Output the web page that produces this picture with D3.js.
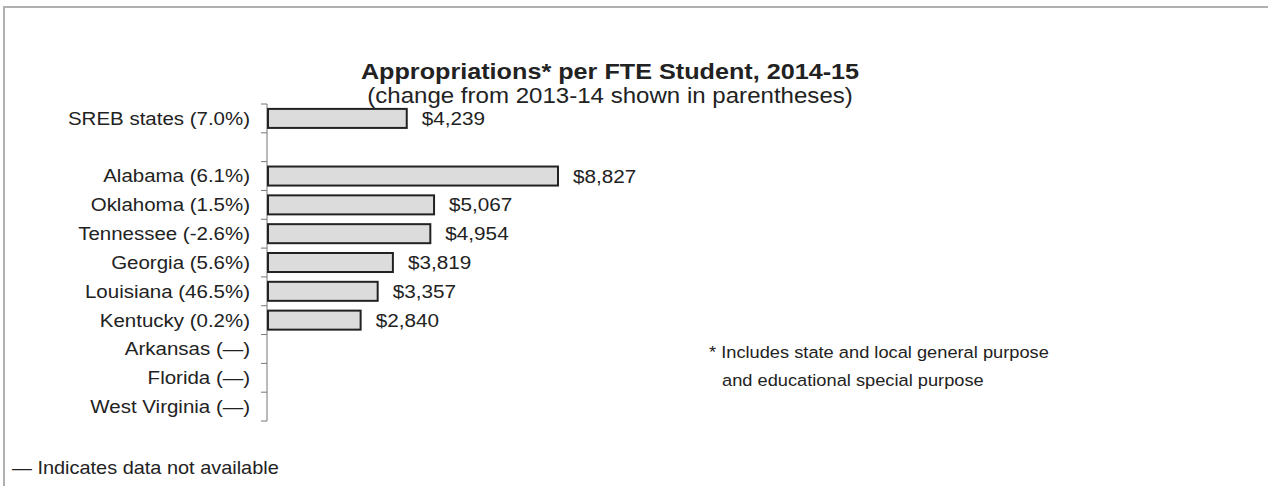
<!DOCTYPE html>
<html>
<head>
<meta charset="utf-8">
<style>
  body { margin: 0; background: #fff; }
  text { font-family: "Liberation Sans", Arial, sans-serif; fill: #222; }
</style>
<script src="https://d3js.org/d3.v7.min.js"></script>
</head>
<body>
<script>
    // data
    var states  = ["SREB states", "", "Alabama", "Oklahoma", "Tennessee", "Georgia", "Louisiana", "Kentucky", "Arkansas", "Florida", "West Virginia"];
    var changes = ["7.0%", null, "6.1%", "1.5%", "-2.6%", "5.6%", "46.5%", "0.2%", "\u2014", "\u2014", "\u2014"];
    var values  = [4239, null, 8827, 5067, 4954, 3819, 3357, 2840, null, null, null];

    var width = 1268, height = 486;
    var sx = 1.12;   // the scanned chart's lettering is a bit wide

    var svg = d3.select("body").append("svg")
        .attr("width", width)
        .attr("height", height);

    // put a horizontally stretched text at (x,y)
    var addText = function(parent, x, y, size, anchor, str, bold) {
        var g = parent.append("g").attr("transform", "translate(" + x + "," + y + ") scale(" + sx + ",1)");
        var t = g.append("text")
            .attr("text-anchor", anchor || "start")
            .style("font-size", size + "px")
            .text(str);
        if (bold) t.style("font-weight", "bold");
        return t;
    }

    // frame (top and left edge only, the rest is cropped)
    svg.append("path")
        .attr("d", "M4,486 V7 H1268")
        .attr("fill", "none")
        .attr("stroke", "#b0b0b0")
        .attr("stroke-width", 2);

    var rows = states.map(function(s, i) { return {key: i, state: s, change: changes[i], value: values[i]}; });

    var y = d3.scaleBand()
        .domain(rows.map(function(d) { return d.key; }))
        .range([104, 421])
        .paddingInner(0.34)
        .paddingOuter(0.17);

    var x = d3.scaleLinear()
        .domain([0, 8827])
        .range([267, 558]);

    // title
    addText(svg, 610, 79, 22.5, "middle", "Appropriations* per FTE Student, 2014-15", true);
    addText(svg, 610, 103, 21.5, "middle", "(change from 2013-14 shown in parentheses)");

    // axis: line plus ticks between rows
    var step = y.step();
    var bounds = d3.range(rows.length + 1).map(function(i) { return 104 + i * step; });
    svg.append("line")
        .attr("x1", 267).attr("x2", 267)
        .attr("y1", 104).attr("y2", 421)
        .attr("stroke", "#777").attr("stroke-width", 1);
    svg.selectAll("line.tick").data(bounds).enter().append("line")
        .attr("class", "tick")
        .attr("x1", 261).attr("x2", 267)
        .attr("y1", function(d) { return d; }).attr("y2", function(d) { return d; })
        .attr("stroke", "#777").attr("stroke-width", 1);

    // category labels
    rows.filter(function(d) { return d.state; }).forEach(function(d) {
        addText(svg, 250, y(d.key) + y.bandwidth() / 2, 18.3, "end", d.state + " (" + d.change + ")")
            .attr("dy", "0.35em");
    });

    // bars
    var withVal = rows.filter(function(d) { return d.value != null; });
    svg.selectAll("rect.bar").data(withVal)
      .enter().append("rect")
        .attr("class", "bar")
        .attr("x", x(0) + 1)
        .attr("y", function(d) { return y(d.key); })
        .attr("width", function(d) { return x(d.value) - x(0) - 1; })
        .attr("height", y.bandwidth())
        .attr("fill", "#dcdcdc")
        .attr("stroke", "#222")
        .attr("stroke-width", 2);

    // value labels
    withVal.forEach(function(d) {
        addText(svg, x(d.value) + 15, y(d.key) + y.bandwidth() / 2, 18.5, "start", "$" + d3.format(",")(d.value))
            .attr("dy", "0.35em");
    });

    // notes
    addText(svg, 709, 358, 16.3, "start", "* Includes state and local general purpose");
    addText(svg, 722, 386, 16.3, "start", "and educational special purpose");
    addText(svg, 12, 474, 17.8, "start", "\u2014 Indicates data not available");
</script>
</body>
</html>
